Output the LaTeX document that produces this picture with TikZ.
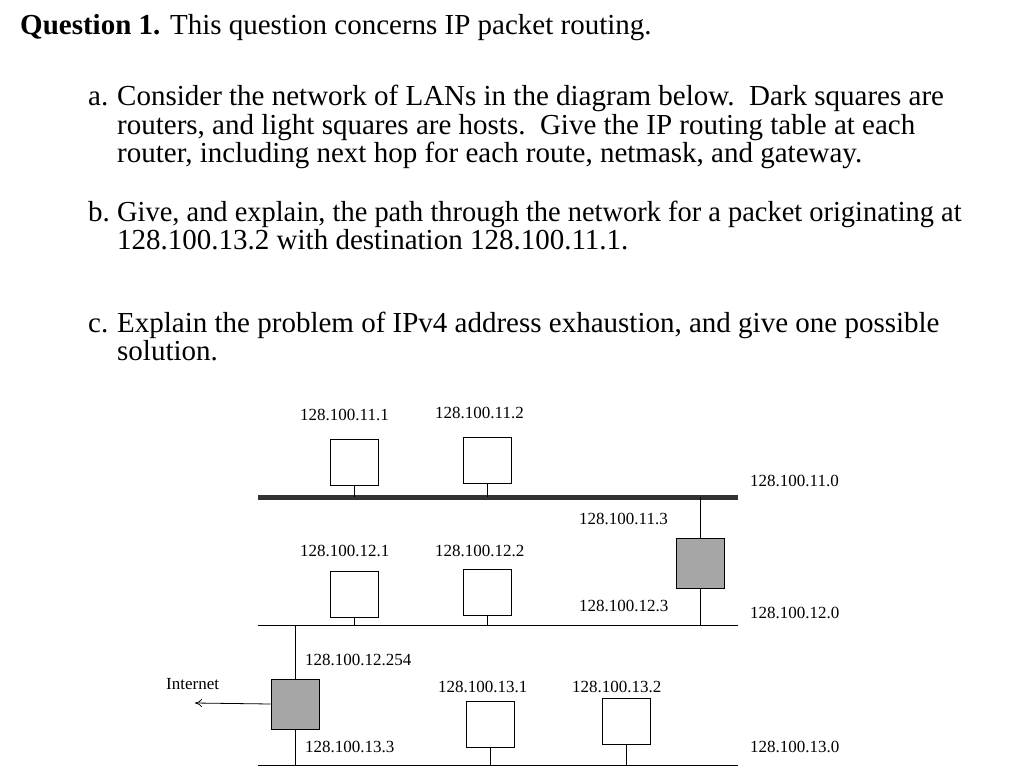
\documentclass[tikz,border=0pt]{standalone}
\usepackage{fontspec}
\usetikzlibrary{arrows.meta}
\setmainfont{Liberation Serif}
\begin{document}
\begin{tikzpicture}[x=1pt,y=-1pt,
  txt/.style={anchor=base west,inner sep=0pt,font=\fontsize{29}{32}\selectfont},
  lbl/.style={anchor=base west,inner sep=0pt,font=\fontsize{17}{19}\selectfont},
  host/.style={draw,line width=0.8pt,fill=white,minimum width=48pt,minimum height=46pt,inner sep=0pt},
  router/.style={draw,line width=0.8pt,fill=gray!70,minimum width=48pt,minimum height=50pt,inner sep=0pt},
  wire/.style={line width=0.8pt}]
\useasboundingbox (0,0) rectangle (1024,781);
\node[txt] (q) at (20,35) {\textbf{Question 1.} This question concerns IP packet routing.};
\node[txt] (la) at (88,106) {a.};
\node[txt] (a1) at (117,106) {Consider the network of LANs in the diagram below.\ \ Dark squares are};
\node[txt] (a2) at (117,134) {routers, and light squares are hosts.\ \ Give the IP routing table at each};
\node[txt] (a3) at (117,162) {router, including next hop for each route, netmask, and gateway.};
\node[txt] (lb) at (88,221) {b.};
\node[txt,xscale=0.98] (b1) at (117,221) {Give, and explain, the path through the network for a packet originating at};
\node[txt] (b2) at (117,249) {128.100.13.2 with destination 128.100.11.1.};
\node[txt] (lc) at (88,332) {c.};
\node[txt] (c1) at (117,332) {Explain the problem of IPv4 address exhaustion, and give one possible};
\node[txt] (c2) at (117,360) {solution.};
% buses
\coordinate (b1l) at (258,497); \coordinate (b1r) at (738,497);
\coordinate (b2l) at (258,625); \coordinate (b2r) at (738,625);
\coordinate (b3l) at (258,765); \coordinate (b3r) at (738,765);
\draw[line width=5pt,black!80] (b1l) -- (b1r);
\draw[wire] (b2l) -- (b2r);
\draw[wire] (b3l) -- (b3r);
% hosts
\node[host] (h111) at (354,462) {};
\node[host] (h112) at (487,460) {};
\node[host] (h121) at (354,594) {};
\node[host] (h122) at (487,592) {};
\node[host] (h131) at (490,724) {};
\node[host] (h132) at (626,721) {};
\draw[wire] (h111.south) -- (h111.south |- b1l);
\draw[wire] (h112.south) -- (h112.south |- b1l);
\draw[wire] (h121.south) -- (h121.south |- b2l);
\draw[wire] (h122.south) -- (h122.south |- b2l);
\draw[wire] (h131.south) -- (h131.south |- b3l);
\draw[wire] (h132.south) -- (h132.south |- b3l);
% routers
\node[router] (r1) at (700,563) {};
\node[router] (r2) at (295,704) {};
\draw[wire] (r1.north) -- (r1.north |- b1l);
\draw[wire] (r1.south) -- (r1.south |- b2l);
\draw[wire] (r2.north) -- (r2.north |- b2l);
\draw[wire] (r2.south) -- (r2.south |- b3l);
\coordinate (inet) at (195,703);
\draw[wire,-{To[length=7pt,width=8pt]}] (r2.west) -- (inet);
% labels
\node[lbl] (t111) at (300,420) {128.100.11.1};
\node[lbl] (t112) at (435,418) {128.100.11.2};
\node[lbl] (t113) at (579,524) {128.100.11.3};
\node[lbl] (t121) at (300,556) {128.100.12.1};
\node[lbl] (t122) at (435,556) {128.100.12.2};
\node[lbl] (t123) at (579,611) {128.100.12.3};
\node[lbl] (t1254) at (305,665) {128.100.12.254};
\node[lbl] (t133) at (305,752) {128.100.13.3};
\node[lbl] (t131) at (438,692) {128.100.13.1};
\node[lbl] (t132) at (572,692) {128.100.13.2};
\node[lbl] (inl) at (166,689) {Internet};
\node[lbl] (n11) at (750,486) {128.100.11.0};
\node[lbl] (n12) at (750,618) {128.100.12.0};
\node[lbl] (n13) at (750,752) {128.100.13.0};
\end{tikzpicture}
\end{document}
